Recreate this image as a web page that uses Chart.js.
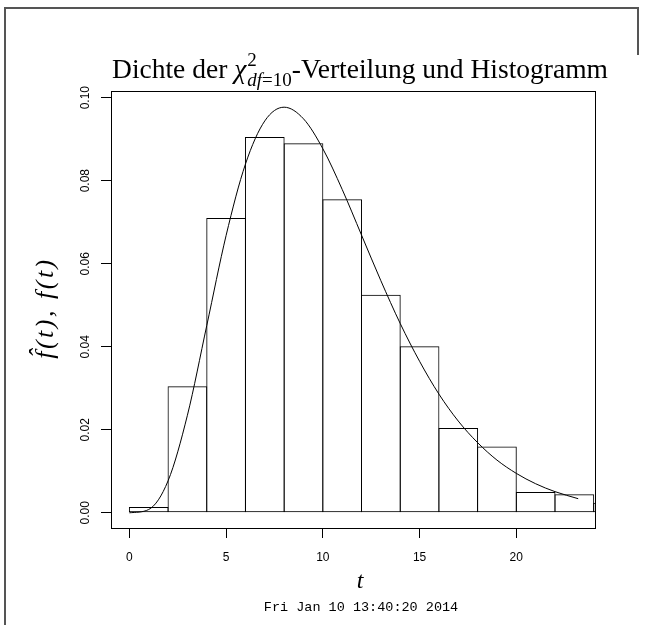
<!DOCTYPE html>
<html>
<head>
<meta charset="utf-8">
<script src="https://cdn.jsdelivr.net/npm/chart.js@4.4.0/dist/chart.umd.min.js"></script>
<style>
  html, body { margin: 0; padding: 0; background: #fff; }
  #wrap { width: 645px; height: 625px; }
</style>
</head>
<body>
<div id="wrap"><canvas id="chart" width="645" height="625"></canvas></div>
<script>
// Histogram: bin mid points (bin width 2) and densities
const binMids = [1, 3, 5, 7, 9, 11, 13, 15, 17, 19, 21, 23, 25];
const binDensity = [0.0014, 0.0305, 0.0710, 0.0905, 0.0890, 0.0755, 0.0525, 0.0401, 0.0204, 0.0160, 0.0050, 0.0045, 0.0024];

// Density curve
const curveT = [0, 1, 2, 3, 4, 5, 6, 7, 8, 9, 10, 11, 12, 13, 14, 15, 16, 17, 18, 19, 20, 21, 22, 23.2];
const curveF = [0, 0.0008, 0.0077, 0.0235, 0.0451, 0.0668, 0.0840, 0.0944, 0.0977, 0.0949, 0.0877, 0.0779,
                0.0669, 0.0559, 0.0456, 0.0365, 0.0286, 0.0221, 0.0169, 0.0127, 0.0095, 0.0070, 0.0051, 0.0034];

// Axis ticks
const xTickValues = [0, 5, 10, 15, 20];
const yTickValues = [0, 0.02, 0.04, 0.06, 0.08, 0.10];

// Texts
const titleBefore = 'Dichte der ';
const titleSymbol = 'χ';
const titleSup = '2';
const titleSubItalic = 'df';
const titleSubRest = '=10';
const titleAfter = '-Verteilung und Histogramm';
const xLabel = 't';
const yLabel = 'f\u0302(t), f(t)';
const stamp = 'Fri Jan 10 13:40:20 2014';

const SERIF = '"Liberation Serif", "DejaVu Serif", serif';
const SANS = '"Liberation Sans", Arial, sans-serif';
const MONO = '"Liberation Mono", "DejaVu Sans Mono", monospace';

// Title with chi^2_{df=10}
function drawTitle(ctx, cx, baseY) {
    const size = 27.5, small = 19;
    const fMain = `${size}px ${SERIF}`;
    const fItal = `italic ${size}px ${SERIF}`;
    const fSmall = `${small}px ${SERIF}`;
    const fSmallIt = `italic ${small}px ${SERIF}`;

    ctx.font = fMain;
    const w1 = ctx.measureText(titleBefore).width;
    const w3 = ctx.measureText(titleAfter).width;
    ctx.font = fItal;
    const wChi = ctx.measureText(titleSymbol).width;
    ctx.font = fSmall;
    const wSup = ctx.measureText(titleSup).width;
    const wSubRest = ctx.measureText(titleSubRest).width;
    ctx.font = fSmallIt;
    const wSubIt = ctx.measureText(titleSubItalic).width;
    const wScript = Math.max(wSup, wSubIt + wSubRest);

    let x = cx - (w1 + wChi + 1 + wScript + w3) / 2;
    ctx.textAlign = 'left';
    ctx.textBaseline = 'alphabetic';
    ctx.fillStyle = '#000';

    ctx.font = fMain;
    ctx.fillText(titleBefore, x, baseY);
    x += w1;
    ctx.font = fItal;
    ctx.fillText(titleSymbol, x, baseY);
    x += wChi + 1;
    ctx.font = fSmall;
    ctx.fillText(titleSup, x, baseY - 12);
    ctx.font = fSmallIt;
    ctx.fillText(titleSubItalic, x, baseY + 8);
    ctx.font = fSmall;
    ctx.fillText(titleSubRest, x + wSubIt, baseY + 8);
    x += wScript;
    ctx.font = fMain;
    ctx.fillText(titleAfter, x, baseY);
}

const decor = {
    id: 'decor',
    beforeDraw(chart) {
        const ctx = chart.ctx;
        ctx.save();
        ctx.fillStyle = '#fff';
        ctx.fillRect(0, 0, chart.width, chart.height);
        ctx.restore();
    },
    afterDraw(chart) {
        const { ctx, chartArea: a } = chart;
        ctx.save();

        // page frame
        ctx.strokeStyle = '#555';
        ctx.lineWidth = 2;
        ctx.beginPath();
        ctx.moveTo(5, 625);
        ctx.lineTo(5, 8);
        ctx.lineTo(638, 8);
        ctx.lineTo(638, 55);
        ctx.stroke();

        // plot box
        ctx.strokeStyle = '#000';
        ctx.lineWidth = 1;
        ctx.strokeRect(a.left + 0.5, a.top + 0.5, a.right - a.left - 1, a.bottom - a.top - 1);

        drawTitle(ctx, 360, 78);

        // x label
        ctx.fillStyle = '#000';
        ctx.textAlign = 'center';
        ctx.textBaseline = 'alphabetic';
        ctx.font = `italic 24px ${SERIF}`;
        ctx.fillText(xLabel, 360, 588);

        // date stamp
        ctx.font = `13.5px ${MONO}`;
        ctx.fillText(stamp, 361, 611);

        // y label
        ctx.translate(46, 308);
        ctx.rotate(-Math.PI / 2);
        ctx.font = `italic 26px ${SERIF}`;
        ctx.letterSpacing = '2.5px';
        ctx.textBaseline = 'middle';
        ctx.fillText(yLabel, 0, 0);

        ctx.restore();
    }
};

const ctx = document.getElementById('chart').getContext('2d');
new Chart(ctx, {
    type: 'bar',
    data: {
        datasets: [
            {
                type: 'line',
                data: curveT.map((t, i) => ({ x: t, y: curveF[i] })),
                borderColor: '#000',
                borderWidth: 1,
                pointRadius: 0,
                fill: false,
                cubicInterpolationMode: 'monotone',
                order: 0
            },
            {
                type: 'bar',
                data: binMids.map((m, i) => ({ x: m, y: binDensity[i] })),
                backgroundColor: 'rgba(0,0,0,0)',
                borderColor: '#000',
                borderWidth: 1,
                borderSkipped: false,
                categoryPercentage: 1,
                barPercentage: 1.026, // neighbouring outlines overlap into one 1px line
                clip: 0,
                order: 1
            }
        ]
    },
    options: {
        responsive: false,
        animation: false,
        events: [],
        layout: { padding: { left: 0, right: 49, top: 91, bottom: 0 } },
        plugins: {
            legend: { display: false },
            tooltip: { enabled: false }
        },
        scales: {
            x: {
                type: 'linear',
                offset: false,
                min: -0.95,
                max: 24.12,
                afterBuildTicks: s => { s.ticks = xTickValues.map(v => ({ value: v })); },
                afterFit: s => { s.height = 96; },
                border: { display: false },
                grid: { offset: false, drawOnChartArea: false, drawTicks: true, tickLength: 9, color: '#000', lineWidth: 1 },
                ticks: {
                    color: '#000',
                    font: { family: SANS, size: 12 },
                    padding: 12,
                    maxRotation: 0,
                    callback: v => String(v)
                }
            },
            y: {
                type: 'linear',
                min: -0.0039,
                max: 0.1016,
                afterBuildTicks: s => { s.ticks = yTickValues.map(v => ({ value: v })); },
                afterFit: s => { s.width = 111; },
                border: { display: false },
                grid: { drawOnChartArea: false, drawTicks: true, tickLength: 10, color: '#000', lineWidth: 1 },
                ticks: {
                    color: '#000',
                    font: { family: SANS, size: 12 },
                    padding: 4,
                    minRotation: 90,
                    maxRotation: 90,
                    crossAlign: 'center',
                    callback: v => v.toFixed(2)
                }
            }
        }
    },
    plugins: [decor]
});
</script>
</body>
</html>
